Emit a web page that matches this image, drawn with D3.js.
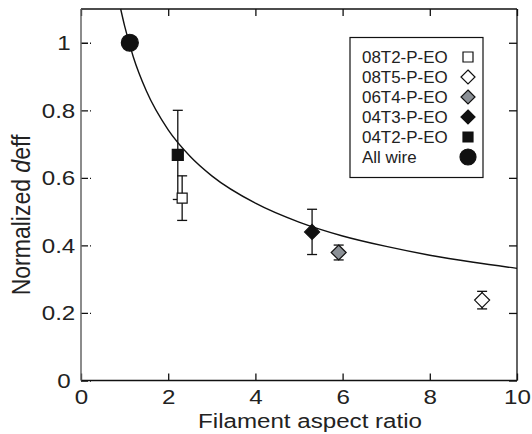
<!DOCTYPE html>
<html>
<head>
<meta charset="utf-8">
<script src="https://cdn.jsdelivr.net/npm/d3@7"></script>
<style>
  body { margin: 0; background: #fff; }
  svg { display: block; font-family: "Liberation Sans", Arial, sans-serif; }
  .axis path { display: none; }
  .axis line { stroke: #111; stroke-width: 1.3; }
  .axis text { font-size: 21px; fill: #222; }
</style>
</head>
<body>
<svg id="chart" width="532" height="434"></svg>
<script>
// samples: label, aspect ratio, normalized deff, error
const labels = ["08T2-P-EO", "08T5-P-EO", "06T4-P-EO", "04T3-P-EO", "04T2-P-EO", "All wire"];
const aspect = [2.32, 9.2, 5.91, 5.3, 2.22, 1.12];
const deff = [0.54, 0.238, 0.379, 0.44, 0.668, 1.0];
const deffErr = [0.066, 0.026, 0.022, 0.067, 0.132, 0];
const symbols = ["square", "diamond", "diamond", "diamond", "square", "circle"];
const fills = ["#fff", "#fff", "#8b9096", "#111", "#111", "#111"];
const sizes = [10, 15, 15, 15, 11, 17];

// fitted curve
const curveX = [0.91, 1.0, 1.2, 1.5, 2.0, 2.5, 3.0, 4.0, 5.0, 6.0, 7.0, 8.0, 9.0, 10.0];
const curveY = [1.10, 1.05, 0.958, 0.857, 0.742, 0.664, 0.606, 0.525, 0.469, 0.428, 0.397, 0.371, 0.35, 0.332];

const xTicks = [0, 2, 4, 6, 8, 10];
const yTicks = [0, 0.2, 0.4, 0.6, 0.8, 1];

const svg = d3.select("#chart");
const pLeft = 81, pRight = 517, pTop = 9, pBottom = 380.5;
const stretch = 1.15; // the source figure is a bit wider than tall, text included

const x = d3.scaleLinear().domain([0, 10]).range([pLeft, pRight]);
const y = d3.scaleLinear().domain([0, 1.1]).range([pBottom, pTop]);

// axes, ticks pointing inward
const xAxis = svg.append("g")
    .attr("class", "axis")
    .attr("transform", `translate(0,${pBottom})`)
    .call(d3.axisBottom(x).tickValues(xTicks).tickSize(-7).tickPadding(8.5).tickFormat(d3.format("")));
xAxis.selectAll("text").attr("transform", `scale(${stretch},1)`);

svg.append("g")
    .attr("class", "axis")
    .attr("transform", `translate(0,${pTop})`)
    .call(d3.axisTop(x).tickValues(xTicks).tickSize(-7).tickFormat(""));

const yAxis = svg.append("g")
    .attr("class", "axis")
    .attr("transform", `translate(${pLeft},0)`)
    .call(d3.axisLeft(y).tickValues(yTicks).tickSize(-10).tickPadding(5).tickFormat(d3.format("")));
yAxis.selectAll("text")
    .attr("transform", `scale(${stretch},1)`)
    .attr("dx", d => Number.isInteger(d) ? -4 : 0);
yAxis.selectAll("line").attr("stroke-dasharray", "7,2,2");

svg.append("g")
    .attr("class", "axis")
    .attr("transform", `translate(${pRight},0)`)
    .call(d3.axisRight(y).tickValues(yTicks).tickSize(-8).tickFormat(""));

// frame
svg.append("line").attr("x1", pLeft).attr("x2", pRight).attr("y1", pBottom).attr("y2", pBottom)
    .attr("stroke", "#111").attr("stroke-width", 1.5);
svg.append("line").attr("x1", pLeft).attr("x2", pRight).attr("y1", pTop).attr("y2", pTop)
    .attr("stroke", "#111").attr("stroke-width", 1.3);
svg.append("line").attr("x1", pRight).attr("x2", pRight).attr("y1", pTop).attr("y2", pBottom)
    .attr("stroke", "#111").attr("stroke-width", 1.3);
svg.append("line").attr("x1", pLeft).attr("x2", pLeft).attr("y1", pTop).attr("y2", pBottom)
    .attr("stroke", "#666").attr("stroke-width", 1.5);

// axis titles
svg.append("text")
    .attr("transform", `translate(310,428) scale(${stretch},1)`)
    .attr("text-anchor", "middle")
    .style("font-size", "21px").attr("fill", "#222")
    .text("Filament aspect ratio");

const yTitle = svg.append("text")
    .attr("transform", `translate(30,215) rotate(-90) scale(1,${stretch})`)
    .attr("text-anchor", "middle")
    .style("font-size", "23px").attr("fill", "#222");
yTitle.append("tspan").text("Normalized ");
yTitle.append("tspan").style("font-style", "italic").text("d");
yTitle.append("tspan").text("eff");

// fit curve
const curvePts = curveX.map((v, i) => [v, curveY[i]]);
svg.append("path")
    .datum(curvePts)
    .attr("fill", "none")
    .attr("stroke", "#111")
    .attr("stroke-width", 1.4)
    .attr("d", d3.line().x(d => x(d[0])).y(d => y(d[1])).curve(d3.curveMonotoneX));

function symbolPath(kind, s) {
    if (kind === "square") {
        const h = s / 2;
        return `M${-h},${-h}H${h}V${h}H${-h}Z`;
    }
    if (kind === "diamond") {
        const h = s / 2;
        return `M0,${-h}L${h},0L0,${h}L${-h},0Z`;
    }
    const r = s / 2;
    return `M${r},0A${r},${r} 0 1,1 ${-r},0A${r},${r} 0 1,1 ${r},0Z`;
}

// draw order: big-error points first so the small ones sit on top
const order = [4, 0, 3, 2, 1, 5];
const pts = svg.append("g").selectAll("g")
    .data(order)
    .join("g")
    .attr("transform", i => `translate(${x(aspect[i])},${y(deff[i])})`);

pts.filter(i => deffErr[i] > 0).each(function (i) {
    const g = d3.select(this);
    const y0 = y(deff[i]);
    const yt = y(deff[i] + deffErr[i]) - y0;
    const yb = y(deff[i] - deffErr[i]) - y0;
    g.append("line").attr("x1", 0).attr("x2", 0).attr("y1", yt).attr("y2", yb)
        .attr("stroke", "#111").attr("stroke-width", 1.3);
    [yt, yb].forEach(v => g.append("line").attr("x1", -5).attr("x2", 5).attr("y1", v).attr("y2", v)
        .attr("stroke", "#111").attr("stroke-width", 1.3));
});

pts.append("path")
    .attr("d", i => symbolPath(symbols[i], sizes[i]))
    .attr("fill", i => fills[i])
    .attr("stroke", "#111")
    .attr("stroke-width", 1.2);

// legend
const legend = svg.append("g").attr("transform", "translate(350,37.5)");
legend.append("rect")
    .attr("width", 133).attr("height", 140)
    .attr("fill", "#fff").attr("stroke", "#111").attr("stroke-width", 1.2);

const items = legend.selectAll(".item")
    .data(labels)
    .join("g")
    .attr("class", "item")
    .attr("transform", (d, i) => `translate(0,${19.5 + i * 20})`);

items.append("text")
    .attr("transform", "translate(12,6) scale(1.06,1)")
    .style("font-size", "16px").attr("fill", "#222")
    .text(d => d);

items.append("path")
    .attr("transform", "translate(118,0)")
    .attr("d", (d, i) => symbolPath(symbols[i], symbols[i] === "circle" ? 16 : (symbols[i] === "square" ? 10 : 14)))
    .attr("fill", (d, i) => fills[i])
    .attr("stroke", "#111")
    .attr("stroke-width", 1.2);
</script>
</body>
</html>
